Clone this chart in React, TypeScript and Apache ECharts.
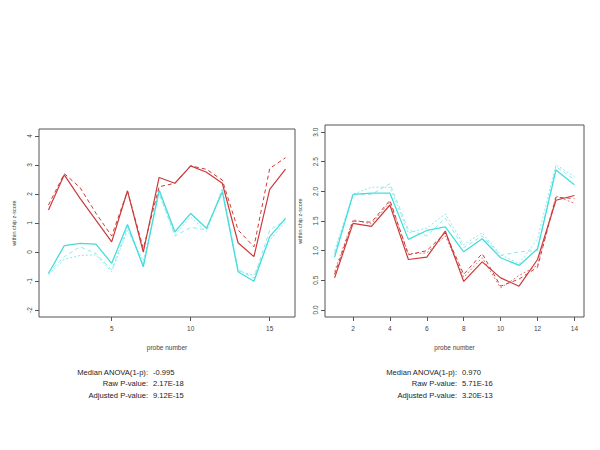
import React, { useEffect, useRef } from "react";
import * as echarts from "echarts";

// ---------- data ----------
const leftProbes = [1, 2, 3, 4, 5, 6, 7, 8, 9, 10, 11, 12, 13, 14, 15, 16];
const leftRedSolid = [1.45, 2.66, 1.85, 1.1, 0.35, 2.11, 0.0, 2.57, 2.37, 2.97, 2.75, 2.37, 0.32, -0.16, 2.16, 2.86];
const leftRedDashed = [1.62, 2.7, 2.22, 1.34, 0.55, 2.1, 0.12, 2.25, 2.37, 2.97, 2.85, 2.48, 0.76, 0.18, 2.88, 3.25];
const leftCyanSolid = [-0.74, 0.22, 0.3, 0.27, -0.39, 0.95, -0.51, 2.14, 0.7, 1.33, 0.82, 2.08, -0.68, -1.01, 0.53, 1.16];
const leftCyanDashed = [-0.7, -0.16, 0.18, -0.05, -0.62, 0.85, -0.45, 2.05, 0.55, 0.85, 0.76, 2.15, -0.6, -0.9, 0.75, 1.1];
const leftCyanDotted = [-0.78, -0.25, -0.12, -0.1, -0.68, 0.75, -0.3, 2.0, 0.6, 1.2, 0.7, 2.2, -0.65, -0.8, 0.4, 1.05];

const rightProbes = [1, 2, 3, 4, 5, 6, 7, 8, 9, 10, 11, 12, 13, 14];
const rightCyanSolid = [0.89, 1.95, 1.97, 1.97, 1.19, 1.34, 1.4, 0.98, 1.2, 0.88, 0.75, 1.03, 2.36, 2.11];
const rightCyanDashed = [0.95, 1.95, 1.95, 2.13, 1.35, 1.25, 1.55, 1.05, 1.25, 0.92, 0.98, 1.0, 2.42, 2.2];
const rightCyanDotted = [1.0, 1.95, 2.07, 2.07, 1.3, 1.38, 1.62, 1.1, 1.3, 0.93, 0.78, 1.2, 2.45, 2.25];
const rightRedSolid = [0.54, 1.46, 1.41, 1.77, 0.85, 0.89, 1.33, 0.48, 0.81, 0.54, 0.4, 0.85, 1.85, 1.93];
const rightRedDashed = [0.6, 1.5, 1.48, 1.85, 0.93, 1.0, 1.3, 0.6, 0.95, 0.4, 0.52, 0.72, 1.9, 1.88];
const rightRedDotted = [0.65, 1.52, 1.45, 1.82, 0.95, 0.96, 1.25, 0.55, 0.88, 0.37, 0.58, 0.75, 1.92, 1.8];

const leftXTicks = [5, 10, 15];
const leftYTicks = [-2, -1, 0, 1, 2, 3, 4];
const rightXTicks = [2, 4, 6, 8, 10, 12, 14];
const rightYTicks = [0, 0.5, 1, 1.5, 2, 2.5, 3];

const statLabels = ["Median ANOVA(1-p):", "Raw P-value:", "Adjusted P-value:"];
const leftStats = ["-0.995", "2.17E-18", "9.12E-15"];
const rightStats = ["0.970", "5.71E-16", "3.20E-13"];

const xName = "probe number";
const yName = "within chip z-score";

// ---------- styling ----------
const RED = "#cc3b3b";
const CYAN = "#46dcdc";
const CYAN_LIGHT = "#8fe9e9";
const RED_LIGHT = "#dd7a7a";
const AXIS = "#555555";
const FONT = "Liberation Sans, Arial, sans-serif";

function pairs(xs: number[], ys: number[]) {
  return xs.map((x, i) => [x, ys[i]]);
}

function lineSeries(
  xIdx: number,
  xs: number[],
  ys: number[],
  color: string,
  type: any,
  width: number,
  z: number
) {
  return {
    type: "line",
    xAxisIndex: xIdx,
    yAxisIndex: xIdx,
    data: pairs(xs, ys),
    symbol: "none",
    silent: true,
    z,
    lineStyle: { color, width, type },
  };
}

function xAxis(gridIndex: number, min: number, max: number, ticks: number[]) {
  return {
    type: "value",
    gridIndex,
    min,
    max,
    position: "bottom",
    name: xName,
    nameLocation: "middle",
    nameGap: 27,
    nameTextStyle: { fontSize: 6.5, color: "#444", fontFamily: FONT },
    axisLine: { show: false, onZero: false },
    splitLine: { show: false },
    axisTick: { show: true, inside: false, length: 4, customValues: ticks, lineStyle: { color: AXIS } },
    axisLabel: { show: true, customValues: ticks, fontSize: 6.5, color: "#444", margin: 8, fontFamily: FONT },
  };
}

function yAxis(gridIndex: number, min: number, max: number, ticks: number[], fmt: (v: number) => string, nameGap: number) {
  return {
    type: "value",
    gridIndex,
    min,
    max,
    position: "left",
    name: yName,
    nameLocation: "middle",
    nameGap,
    nameRotate: 90,
    nameTextStyle: { fontSize: 5.5, color: "#444", fontFamily: FONT },
    axisLine: { show: false, onZero: false },
    splitLine: { show: false },
    axisTick: { show: true, inside: false, length: 4, customValues: ticks, lineStyle: { color: AXIS } },
    axisLabel: {
      show: true,
      customValues: ticks,
      rotate: 90,
      fontSize: 6.5,
      color: "#444",
      margin: 6,
      fontFamily: FONT,
      formatter: fmt,
    },
  };
}

function statBlock(colonX: number, ys: number[], values: string[]) {
  const els: any[] = [];
  statLabels.forEach((lab, i) => {
    els.push({
      type: "text",
      x: colonX,
      y: ys[i],
      style: { text: lab, fontSize: 7.6, fill: "#222", align: "right", verticalAlign: "middle", fontFamily: FONT },
    });
    els.push({
      type: "text",
      x: colonX + 5,
      y: ys[i],
      style: { text: values[i], fontSize: 7.6, fill: "#222", align: "left", verticalAlign: "middle", fontFamily: FONT },
    });
  });
  return els;
}

export default function App() {
  const ref = useRef<HTMLDivElement>(null);

  useEffect(() => {
    if (!ref.current) return;
    const chart = echarts.init(ref.current, null, { renderer: "svg" });
    const rowY = [372, 383.5, 395];
    const option: any = {
      animation: false,
      backgroundColor: "#ffffff",
      grid: [
        { left: 39, top: 129, width: 256, height: 188, show: true, borderColor: AXIS, borderWidth: 1, backgroundColor: "transparent" },
        { left: 325, top: 125, width: 259, height: 192, show: true, borderColor: AXIS, borderWidth: 1, backgroundColor: "transparent" },
      ],
      xAxis: [xAxis(0, 0.4, 16.6, leftXTicks), xAxis(1, 0.48, 14.52, rightXTicks)],
      yAxis: [
        yAxis(0, -2.24, 4.24, leftYTicks, (v: number) => String(v), 22),
        yAxis(1, -0.12, 3.12, rightYTicks, (v: number) => v.toFixed(1), 22),
      ],
      series: [
        lineSeries(0, leftProbes, leftCyanDotted, CYAN_LIGHT, [2, 2], 1, 1),
        lineSeries(0, leftProbes, leftCyanDashed, CYAN_LIGHT, [4, 3], 1, 2),
        lineSeries(0, leftProbes, leftCyanSolid, CYAN, "solid", 1.3, 3),
        lineSeries(0, leftProbes, leftRedDashed, RED, [4, 3], 1, 4),
        lineSeries(0, leftProbes, leftRedSolid, RED, "solid", 1.2, 5),
        lineSeries(1, rightProbes, rightCyanDotted, CYAN_LIGHT, [2, 2], 1, 1),
        lineSeries(1, rightProbes, rightCyanDashed, CYAN_LIGHT, [4, 3], 1, 2),
        lineSeries(1, rightProbes, rightCyanSolid, CYAN, "solid", 1.3, 3),
        lineSeries(1, rightProbes, rightRedDotted, RED_LIGHT, [2, 2], 1, 4),
        lineSeries(1, rightProbes, rightRedDashed, RED, [4, 3], 1, 5),
        lineSeries(1, rightProbes, rightRedSolid, RED, "solid", 1.2, 6),
      ],
      graphic: [...statBlock(148, rowY, leftStats), ...statBlock(457, rowY, rightStats)],
    };
    chart.setOption(option);
    return () => chart.dispose();
  }, []);

  return (
    <div
      ref={ref}
      style={{ position: "fixed", left: 0, top: 0, width: 600, height: 450, background: "#fff" }}
    />
  );
}
